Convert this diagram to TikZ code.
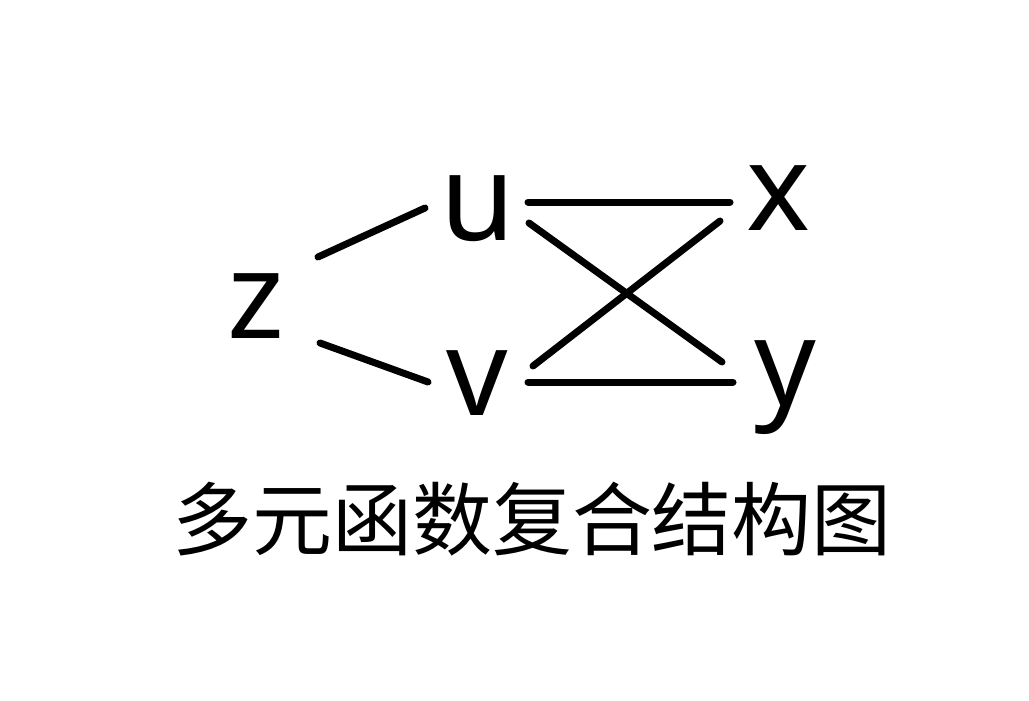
\documentclass[tikz,border=0pt]{standalone}
\usepackage{fontspec}
\setmainfont{Noto Sans}
\newfontfamily\cjk{Noto Sans CJK SC}
\begin{document}
\begin{tikzpicture}[x=1pt,y=-1pt,
  letter/.style={anchor=base,inner sep=0pt,font=\fontsize{121}{121}\selectfont},
  caption/.style={anchor=center,inner sep=0pt,font=\cjk\fontsize{80}{80}\selectfont},
  edge/.style={line width=7pt,line cap=round}]
\useasboundingbox (0,0) rectangle (1029,701);
\node[letter] (z) at (256,338) {z};
\node[letter] (u) at (478,240) {u};
\node[letter] (v) at (477,415) {v};
\node[letter] (x) at (778,230) {x};
\node[letter] (y) at (785,405) {y};
\node[caption] (t) at (532,519) {多元函数复合结构图};
\draw[edge] ([shift={(62,-81)}]z.base) -- ([shift={(-53,-32)}]u.base);
\draw[edge] ([shift={(64,5)}]z.base) -- ([shift={(-49,-33)}]v.base);
\draw[edge] ([shift={(50,-38)}]u.base) -- ([shift={(-48,-28)}]x.base);
\draw[edge] ([shift={(51,-17)}]u.base) -- ([shift={(-63,-43)}]y.base);
\draw[edge] ([shift={(56,-49)}]v.base) -- ([shift={(-58,-9)}]x.base);
\draw[edge] ([shift={(51,-33)}]v.base) -- ([shift={(-52,-23)}]y.base);
\end{tikzpicture}
\end{document}
